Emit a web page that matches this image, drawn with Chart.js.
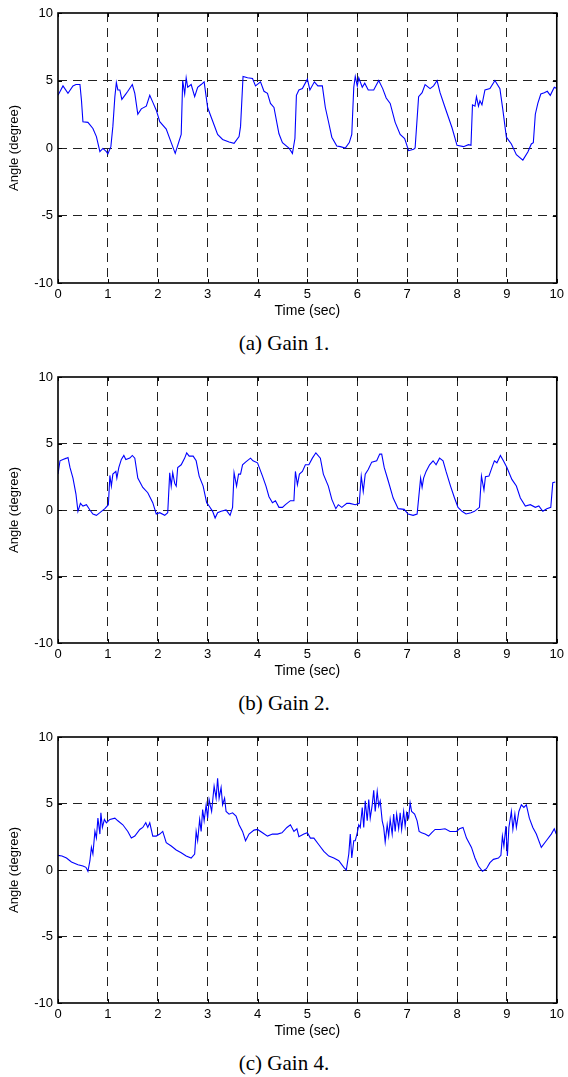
<!DOCTYPE html>
<html lang="en">
<head>
  <meta charset="UTF-8">
  <title>Angle response for three gains</title>
  <script src="https://cdn.jsdelivr.net/npm/chart.js"></script>
  <style>
    body {
      margin: 0;
      background: #ffffff;
      width: 568px;
      height: 1077px;
      position: relative;
      overflow: hidden;
    }
    .panel {
      position: absolute;
      left: 0;
      width: 568px;
    }
    .caption {
      position: absolute;
      left: 0;
      width: 568px;
      text-align: center;
      font-family: "Liberation Serif", "Times New Roman", serif;
      font-size: 21px;
      line-height: 24px;
      color: #000;
    }
  </style>
</head>

<body>
  <div class="panel" style="top:0px"><canvas id="chart_a" width="568" height="320"></canvas></div>
  <div class="caption" style="top:331px">(a) Gain 1.</div>

  <div class="panel" style="top:364px"><canvas id="chart_b" width="568" height="316"></canvas></div>
  <div class="caption" style="top:691px">(b) Gain 2.</div>

  <div class="panel" style="top:724px"><canvas id="chart_c" width="568" height="316"></canvas></div>
  <div class="caption" style="top:1051px">(c) Gain 4.</div>
</body>

<script>
  // tick labels
  const timeTicks = [0, 1, 2, 3, 4, 5, 6, 7, 8, 9, 10]
  const angleTicks = [-10, -5, 0, 5, 10]

  // gain 1
  const gain1Time = [
    0, 0.1, 0.2, 0.3, 0.36, 0.44, 0.47, 0.5, 0.6, 0.7,
    0.77, 0.84, 0.9, 0.97, 1.0, 1.06, 1.1, 1.14, 1.17, 1.2,
    1.24, 1.28, 1.34, 1.4, 1.49, 1.54, 1.6, 1.67, 1.77, 1.84,
    1.9, 1.97, 2.04, 2.17, 2.27, 2.35, 2.4, 2.47, 2.5, 2.54,
    2.57, 2.6, 2.67, 2.74, 2.8, 2.87, 2.93, 3.0, 3.07, 3.13,
    3.2, 3.3, 3.43, 3.53, 3.63, 3.66, 3.71, 3.8, 3.9, 3.96,
    4.06, 4.13, 4.2, 4.26, 4.33, 4.43, 4.5, 4.63, 4.7, 4.75,
    4.78, 4.83, 4.9, 5.0, 5.05, 5.14, 5.21, 5.3, 5.36, 5.42,
    5.49, 5.59, 5.66, 5.76, 5.84, 5.89, 5.93, 5.96, 6.0, 6.03,
    6.1, 6.15, 6.22, 6.33, 6.43, 6.51, 6.58, 6.66, 6.76, 6.86,
    6.95, 7.03, 7.13, 7.16, 7.23, 7.3, 7.36, 7.46, 7.53, 7.6,
    7.66, 7.76, 7.9, 8.0, 8.13, 8.23, 8.28, 8.31, 8.36, 8.39,
    8.43, 8.46, 8.5, 8.56, 8.66, 8.76, 8.86, 8.92, 8.99, 9.09,
    9.19, 9.32, 9.42, 9.49, 9.53, 9.57, 9.62, 9.68, 9.75, 9.81,
    9.87, 9.95, 10.0
  ]
  const gain1Angle = [
    3.9, 4.6, 4.05, 4.6, 4.7, 4.7, 3.55, 1.95, 1.9, 1.45,
    0.84, -0.27, -0.03, -0.27, -0.44, 0.1, 1.6, 3.8, 4.84, 4.3,
    4.3, 3.6, 3.9, 4.2, 4.7, 4.05, 2.5, 2.9, 3.1, 3.9,
    3.4, 2.8, 1.95, 1.4, 0.4, -0.4, 0.2, 1.0, 5.0, 4.0,
    5.2, 4.5, 4.7, 3.8, 4.5, 4.7, 4.9, 3.0, 2.3, 1.7,
    1.0, 0.63, 0.45, 0.35, 0.85, 1.6, 5.3, 5.2, 5.15, 4.6,
    4.9, 4.2, 4.05, 3.3, 3.0, 1.05, 0.4, 0.0, -0.4, 0.7,
    3.9, 4.3, 4.4, 5.1, 4.3, 4.9, 4.6, 4.6, 3.0, 2.0,
    0.8, 0.15, 0.1, 0.0, 0.4, 1.0, 4.5, 5.3, 4.6, 5.2,
    4.5, 4.8, 4.3, 4.3, 5.0, 4.4, 3.7, 3.3, 1.9, 1.0,
    0.7, -0.2, -0.1, 0.0, 3.8, 4.1, 4.7, 4.4, 4.6, 5.0,
    4.1, 3.0, 1.5, 0.2, 0.1, 0.25, 0.2, 3.2, 3.1, 3.8,
    3.1, 3.5, 3.2, 4.3, 4.4, 5.0, 4.4, 2.8, 0.8, 0.3,
    -0.5, -0.9, -0.3, 0.3, 0.4, 2.5, 3.3, 4.0, 4.1, 4.2,
    3.9, 4.5, 4.4
  ]

  // gain 2
  const gain2Time = [
    0, 0.04, 0.1, 0.17, 0.2, 0.24, 0.3, 0.36, 0.4, 0.45,
    0.5, 0.57, 0.64, 0.7, 0.77, 0.84, 0.94, 1.01, 1.04, 1.07,
    1.1, 1.16, 1.18, 1.22, 1.27, 1.32, 1.36, 1.44, 1.49, 1.54,
    1.6, 1.7, 1.8, 1.9, 1.97, 2.04, 2.14, 2.2, 2.24, 2.27,
    2.3, 2.34, 2.37, 2.4, 2.47, 2.54, 2.58, 2.63, 2.71, 2.77,
    2.83, 2.91, 2.98, 3.03, 3.1, 3.15, 3.2, 3.27, 3.37, 3.45,
    3.5, 3.53, 3.58, 3.62, 3.66, 3.7, 3.76, 3.86, 3.91, 4.0,
    4.1, 4.17, 4.23, 4.3, 4.36, 4.43, 4.5, 4.56, 4.66, 4.73,
    4.76, 4.8, 4.84, 4.9, 4.96, 5.03, 5.1, 5.17, 5.26, 5.32,
    5.42, 5.49, 5.57, 5.62, 5.69, 5.79, 5.85, 5.96, 6.04, 6.08,
    6.12, 6.16, 6.22, 6.29, 6.39, 6.45, 6.49, 6.54, 6.62, 6.72,
    6.82, 6.94, 7.02, 7.12, 7.2, 7.27, 7.3, 7.33, 7.38, 7.45,
    7.52, 7.58, 7.65, 7.72, 7.78, 7.87, 7.95, 8.02, 8.1, 8.18,
    8.28, 8.35, 8.45, 8.49, 8.54, 8.57, 8.64, 8.71, 8.75, 8.8,
    8.87, 8.93, 9.0, 9.1, 9.19, 9.27, 9.37, 9.47, 9.57, 9.64,
    9.72, 9.8, 9.88, 9.92, 9.97
  ]
  const gain2Angle = [
    2.7, 3.7, 3.8, 3.9, 3.95, 3.2, 2.4, 1.2, -0.1, 0.5,
    0.3, 0.4, 0.0, -0.3, -0.4, -0.2, 0.1, 0.4, 2.6, 1.8,
    2.7, 2.9, 2.4, 3.2, 3.8, 4.1, 3.8, 3.9, 4.1, 3.9,
    2.4, 1.7, 1.3, 0.55, -0.3, -0.2, -0.4, -0.2, 2.8, 1.8,
    2.8, 2.0, 1.8, 3.2, 3.4, 3.9, 4.3, 4.05, 4.05, 3.7,
    2.55, 1.8, 0.55, 0.3, -0.1, -0.6, -0.2, -0.1, 0.0, -0.4,
    0.2, 2.8, 1.8, 2.7, 2.7, 3.4, 3.6, 3.9, 3.7, 3.55,
    2.55, 1.8, 1.0, 0.55, 0.7, 0.2, 0.2, 0.4, 0.7, 0.7,
    2.9, 1.9, 2.7, 2.9, 3.4, 3.4, 3.9, 4.3, 3.9, 2.7,
    1.8, 0.8, 0.1, 0.4, 0.2, 0.5, 0.5, 0.4, 0.5, 2.55,
    1.4, 2.7, 3.05, 3.6, 3.7, 4.2, 4.2, 3.2, 2.2, 0.9,
    0.1, 0.05, -0.3, -0.4, -0.3, 2.4, 1.7, 2.4, 2.9, 3.4,
    3.7, 3.4, 3.9, 3.7, 2.9, 1.8, 0.9, 0.2, -0.1, -0.3,
    -0.2, -0.1, 0.2, 2.55, 1.5, 2.5, 2.55, 3.3, 3.7, 3.55,
    4.1, 3.7, 3.2, 2.3, 1.8, 0.9, 0.3, 0.4, 0.2, 0.3,
    -0.1, 0.1, 0.2, 2.05, 2.1
  ]

  // gain 4
  const gain4Time = [
    0, 0.08, 0.17, 0.27, 0.4, 0.5, 0.56, 0.6, 0.64, 0.67,
    0.7, 0.74, 0.77, 0.8, 0.84, 0.86, 0.89, 0.93, 0.97, 1.04,
    1.14, 1.2, 1.3, 1.4, 1.47, 1.54, 1.64, 1.7, 1.76, 1.8,
    1.84, 1.9, 1.97, 2.04, 2.1, 2.17, 2.27, 2.37, 2.47, 2.57,
    2.67, 2.74, 2.77, 2.8, 2.84, 2.87, 2.9, 2.93, 2.97, 3.0,
    3.03, 3.08, 3.13, 3.17, 3.2, 3.23, 3.27, 3.3, 3.34, 3.37,
    3.43, 3.5, 3.57, 3.63, 3.7, 3.76, 3.83, 3.93, 4.0, 4.1,
    4.2, 4.3, 4.4, 4.49, 4.59, 4.66, 4.73, 4.79, 4.83, 4.93,
    5.0, 5.06, 5.13, 5.23, 5.33, 5.43, 5.53, 5.63, 5.73, 5.78,
    5.83, 5.86, 5.89, 5.93, 5.96, 6.0, 6.03, 6.06, 6.1, 6.13,
    6.16, 6.2, 6.23, 6.26, 6.3, 6.33, 6.36, 6.4, 6.43, 6.46,
    6.5, 6.53, 6.56, 6.6, 6.63, 6.66, 6.7, 6.73, 6.76, 6.79,
    6.83, 6.86, 6.89, 6.93, 6.96, 6.99, 7.03, 7.06, 7.09, 7.15,
    7.2, 7.24, 7.29, 7.36, 7.43, 7.49, 7.56, 7.66, 7.76, 7.86,
    7.99, 8.05, 8.12, 8.19, 8.29, 8.36, 8.43, 8.51, 8.59, 8.66,
    8.73, 8.83, 8.88, 8.91, 8.94, 8.98, 9.01, 9.04, 9.09, 9.12,
    9.16, 9.19, 9.24, 9.29, 9.34, 9.39, 9.45, 9.52, 9.59, 9.69,
    9.79, 9.89, 9.95, 9.99
  ]
  const gain4Angle = [
    1.1, 1.05, 0.9, 0.6, 0.4, 0.3, 0.2, -0.1, 0.7, 1.7,
    1.2, 2.9, 2.4, 3.9, 2.7, 4.3, 3.2, 3.8, 3.55, 3.8,
    3.9, 3.7, 3.4, 2.9, 2.4, 2.55, 3.05, 3.2, 3.55, 3.2,
    3.55, 2.55, 2.55, 2.7, 2.9, 2.05, 1.8, 1.5, 1.3, 1.05,
    0.9, 1.2, 2.9, 2.2, 3.8, 2.9, 4.55, 3.7, 4.9, 3.9,
    5.3, 4.4, 6.3, 5.4, 6.9, 5.4, 6.2, 4.9, 5.4, 4.4,
    4.2, 4.3, 4.05, 3.4, 2.9, 2.2, 2.7, 3.0, 3.05, 2.8,
    2.55, 2.7, 2.7, 2.8, 3.2, 3.4, 2.9, 3.1, 2.5, 2.7,
    2.8, 2.4, 2.4, 1.9, 1.4, 1.05, 0.9, 0.7, 0.2, 0.0,
    1.2, 2.7, 0.9, 2.2, 2.2, 2.8, 3.4, 3.2, 4.7, 3.2,
    5.2, 3.7, 5.3, 3.9, 4.9, 6.0, 4.4, 5.9, 4.8, 5.2,
    3.7, 3.2, 2.1, 3.4, 2.55, 3.8, 2.7, 4.2, 2.9, 4.2,
    3.1, 4.3, 3.05, 4.4, 3.3, 4.3, 3.9, 5.05, 4.4, 4.2,
    3.7, 2.9, 2.8, 2.7, 2.55, 2.8, 3.05, 3.05, 3.1, 2.9,
    2.9, 3.1, 3.2, 2.4, 1.7, 0.9, 0.3, -0.1, 0.1, 0.55,
    0.8, 0.9, 1.1, 2.55, 1.8, 3.3, 1.05, 3.2, 4.4, 3.05,
    4.2, 3.2, 4.4, 4.9, 4.7, 4.9, 3.9, 3.2, 2.7, 1.7,
    2.2, 2.7, 3.1, 2.7
  ]

  Chart.defaults.color = '#000000'
  Chart.defaults.font.family = '"Liberation Sans", Arial, Helvetica, sans-serif'

  // axes box with small inward ticks, like the old matlab figures
  const axesBox = {
    id: 'axesBox',
    afterDraw(chart) {
      const { ctx, chartArea: a, scales } = chart
      ctx.save()
      ctx.strokeStyle = '#000000'
      ctx.lineWidth = 1
      ctx.beginPath()
      timeTicks.forEach(t => {
        const px = Math.round(scales.x.getPixelForValue(t)) + 0.5
        ctx.moveTo(px, a.bottom); ctx.lineTo(px, a.bottom - 4)
        ctx.moveTo(px, a.top); ctx.lineTo(px, a.top + 4)
      })
      angleTicks.forEach(v => {
        const py = Math.round(scales.y.getPixelForValue(v)) + 0.5
        ctx.moveTo(a.left, py); ctx.lineTo(a.left + 4, py)
        ctx.moveTo(a.right, py); ctx.lineTo(a.right - 4, py)
      })
      ctx.stroke()
      ctx.lineWidth = 1.6
      ctx.strokeRect(a.left, a.top, a.right - a.left, a.bottom - a.top)
      ctx.restore()
    }
  }

  function hideEdges(min, max) {
    return ctx => (ctx.tick.value === min || ctx.tick.value === max) ? 'rgba(0,0,0,0)' : '#222222'
  }

  function makeChart(canvasId, times, angles) {
    var points = times.map((t, i) => ({ x: t, y: angles[i] }))
    return new Chart(document.getElementById(canvasId), {
      type: 'line',
      data: {
        datasets: [{
          data: points,
          borderColor: '#0000ff',
          borderWidth: 1.1,
          pointRadius: 0,
          tension: 0,
          fill: false
        }]
      },
      options: {
        responsive: false,
        animation: false,
        layout: { padding: { top: 13, right: 9, bottom: 0, left: 0 } },
        plugins: { legend: { display: false }, tooltip: { enabled: false } },
        scales: {
          x: {
            type: 'linear',
            min: timeTicks[0],
            max: timeTicks[timeTicks.length - 1],
            afterBuildTicks: scale => { scale.ticks = timeTicks.map(v => ({ value: v })) },
            afterFit: scale => { scale.height = 37 },
            ticks: { padding: 4, maxRotation: 0, font: { size: 13 } },
            grid: { color: hideEdges(0, 10), lineWidth: 1, drawTicks: false },
            border: { display: false, dash: [9, 6] },
            title: { display: true, text: 'Time (sec)', font: { size: 14 }, padding: { top: 0, bottom: 0 } }
          },
          y: {
            min: angleTicks[0],
            max: angleTicks[angleTicks.length - 1],
            afterBuildTicks: scale => { scale.ticks = angleTicks.map(v => ({ value: v })) },
            afterFit: scale => { scale.width = 58 },
            ticks: { padding: 5, font: { size: 13 } },
            grid: { color: hideEdges(-10, 10), lineWidth: 1, drawTicks: false },
            border: { display: false, dash: [9, 6] },
            title: { display: true, text: 'Angle (degree)', font: { size: 13 }, padding: { top: 7, bottom: 0 } }
          }
        }
      },
      plugins: [axesBox]
    })
  }

  makeChart('chart_a', gain1Time, gain1Angle)
  makeChart('chart_b', gain2Time, gain2Angle)
  makeChart('chart_c', gain4Time, gain4Angle)
</script>

</html>
